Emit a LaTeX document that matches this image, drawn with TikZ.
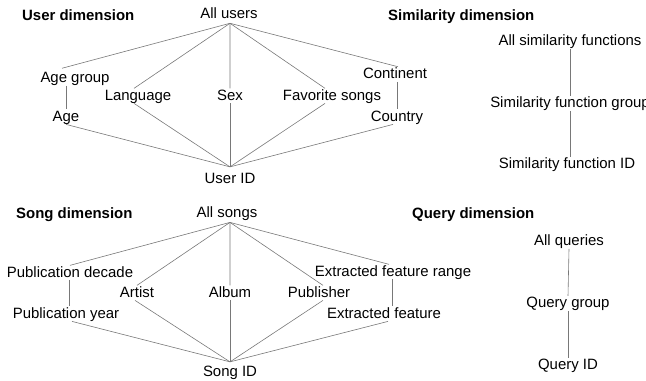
\documentclass[tikz,border=0pt]{standalone}
\usepackage{fontspec}
\setmainfont{Liberation Sans}
\usepackage{tikz}
\usetikzlibrary{positioning}
\definecolor{linegray}{RGB}{120,120,120}
\tikzset{
  lbl/.style={font=\fontsize{15}{18}\selectfont, inner sep=0pt, text height=11.5pt, text depth=3.2pt, anchor=base},
  dimtitle/.style={font=\fontsize{15}{18}\selectfont\bfseries, inner sep=0pt, anchor=base west},
  conn/.style={draw=linegray, line width=0.6pt}
}

\begin{document}
\begin{tikzpicture}[x=1bp, y=-1bp]
\useasboundingbox (0,0) rectangle (646,380);

\node [dimtitle] (utitle) at (22,20.4) {User dimension};
\node [lbl] (uall) at (229,18.4) {All users};
\node [lbl] (uagegrp) at (75,82.4) {Age group};
\node [lbl] (uage) at (66,121) {Age};
\node [lbl] (ulang) at (138,100) {Language};
\node [lbl] (usex) at (230,100) {Sex};
\node [lbl] (ufav) at (332,100) {Favorite songs};
\node [lbl] (ucont) at (395,78.4) {Continent};
\node [lbl] (ucountry) at (397,121) {Country};
\node [lbl] (uid) at (230,183) {User ID};
\coordinate (utop) at ([xshift=1pt,yshift=-1.5pt]uall.south);
\coordinate (ubot) at ([yshift=4.5pt]uid.north);

\draw[conn] (utop)--([xshift=-13pt,yshift=2.5pt]uagegrp.north);
\draw[conn] (uage.north |- uagegrp.south)--(uage.north);
\draw[conn] (uage.south)--(ubot);
\draw[conn] (utop)--([xshift=-4pt]ulang.north);
\draw[conn] ([xshift=-4pt]ulang.south)--(ubot);
\draw[conn] (utop)--(usex.north);
\draw[conn] (usex.south)--(ubot);
\draw[conn] (utop)--([xshift=-7pt]ufav.north);
\draw[conn] ([xshift=-7pt]ufav.south)--(ubot);
\draw[conn] (utop)--([xshift=3pt]ucont.north);
\draw[conn] (ucountry.north |- ucont.south)--(ucountry.north);
\draw[conn] ([xshift=-4pt]ucountry.south)--(ubot);

\node [dimtitle] (simtitle) at (388,20.4) {Similarity dimension};
\node [lbl] (simall) at (570,45.5) {All similarity functions};
\node [lbl] (simgrp) at (570,107.5) {Similarity function group};
\node [lbl] (simid) at (567,168.5) {Similarity function ID};
\draw[conn] (simall.south)--(simgrp.north);
\draw[conn] (simgrp.south)--(simgrp.south |- simid.north);

\node [dimtitle] (stitle) at (16,218.4) {Song dimension};
\node [lbl] (sall) at (227,217.5) {All songs};
\node [lbl] (spubdec) at (70,277) {Publication decade};
\node [lbl] (spubyear) at (66,318) {Publication year};
\node [lbl] (sartist) at (137,297) {Artist};
\node [lbl] (salbum) at (230,297) {Album};
\node [lbl] (spub) at (319,297) {Publisher};
\node [lbl] (sextr) at (393,276) {Extracted feature range};
\node [lbl] (sextf) at (384,318) {Extracted feature};
\node [lbl] (ssongid) at (230,376) {Song ID};
\coordinate (stop) at ([xshift=3pt,yshift=-1.5pt]sall.south);
\coordinate (sbot) at ([yshift=2.5pt]ssongid.north);

\draw[conn] (stop)--(spubdec.north);
\draw[conn] ([xshift=3pt]spubyear.north |- spubdec.south)--([xshift=3pt]spubyear.north);
\draw[conn] ([xshift=6pt]spubyear.south)--(sbot);
\draw[conn] (stop)--(sartist.north);
\draw[conn] ([xshift=-2pt]sartist.south)--(sbot);
\draw[conn] (stop)--(salbum.north);
\draw[conn] (salbum.south)--(sbot);
\draw[conn] (stop)--([xshift=4pt]spub.north);
\draw[conn] ([xshift=4pt]spub.south)--(sbot);
\draw[conn] (stop)--([xshift=-4pt]sextr.north);
\draw[conn] ([xshift=8pt]sextf.north |- sextr.south)--([xshift=8pt]sextf.north);
\draw[conn] ([xshift=4pt]sextf.south)--(sbot);

\node [dimtitle] (qtitle) at (412,218.4) {Query dimension};
\node [lbl] (qall) at (569,245.5) {All queries};
\node [lbl] (qgrp) at (568,307.5) {Query group};
\node [lbl] (qid) at (568,369.5) {Query ID};
\draw[conn] (qall.south)--(qgrp.north);
\draw[conn] (qgrp.south)--(qgrp.south |- qid.north);

\end{tikzpicture}
\end{document}
